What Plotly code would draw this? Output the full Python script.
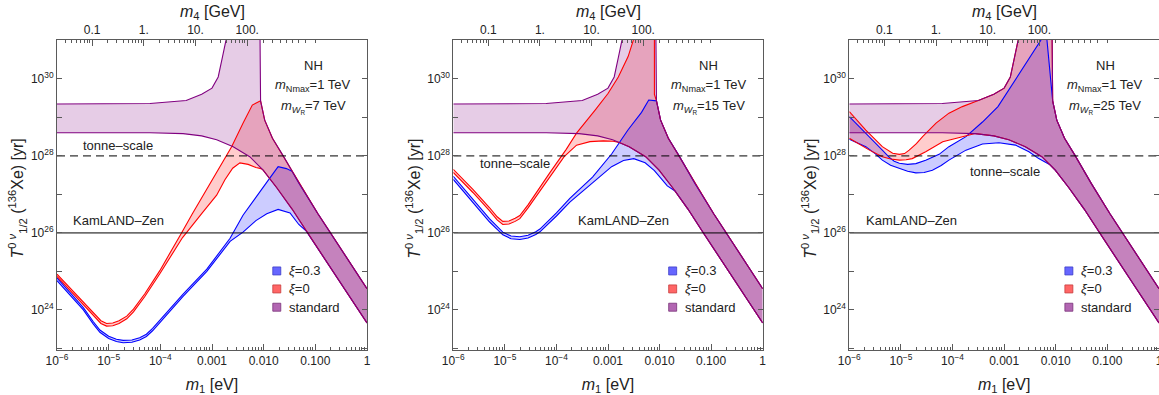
import numpy as np
import plotly.graph_objects as go

# ---------------- reference limits ----------------
kamland_T = 1e26
tonne_T = 1e28
kamland_label = "KamLAND–Zen"
tonne_label = "tonne–scale"

# ---------------- axis ticks / titles ----------------
m1_tick_values = [1e-6, 1e-5, 1e-4, 1e-3, 1e-2, 1e-1, 1.0]
m1_tick_labels = ["10<sup>−6</sup>", "10<sup>−5</sup>", "10<sup>−4</sup>", "0.001", "0.010", "0.100", "1"]
T_major_exponents = [24, 26, 28, 30]
T_minor_exponents = [23, 25, 27, 29, 31]
m4_tick_values = [0.1, 1.0, 10.0, 100.0]
m4_tick_labels = ["0.1", "1.", "10.", "100."]
m_N_max_GeV = 1000.0
sqrt_dm31_eV = 0.0479
x_title = "<i>m</i><sub>1</sub> [eV]"
top_title = "<i>m</i><sub>4</sub> [GeV]"
y_title = "<i>T</i><sup>0 <i>ν</i></sup><sub>1/2</sub> (<sup>136</sup>Xe) [yr]"

panel_mWR_TeV = [7, 15, 25]
legend_names = ["<i>ξ</i>=0.3", "<i>ξ</i>=0", "standard"]

# ---------------- curves: log10(m1/eV), log10(T1/2/yr) ----------------
# standard mechanism (same in every panel)
std_lower_logm1 = [-6.0, -5.0, -4.2, -3.56, -3.2, -2.91, -2.59, -2.27, -2.01, -1.75, -1.45, -1.15, -0.6, 0.0]
std_lower_logT = [28.60, 28.60, 28.60, 28.58, 28.52, 28.42, 28.24, 27.98, 27.63, 27.18, 26.62, 26.0, 24.88, 23.66]
std_upper_left_logm1 = [-6.0, -5.0, -4.2, -3.5, -3.2, -3.0, -2.88, -2.80, -2.73, -2.69]
std_upper_left_logT = [29.35, 29.35, 29.36, 29.44, 29.60, 29.76, 30.05, 30.55, 31.0, 32.0]
std_upper_right_logm1 = [-2.07, -2.07, -2.06, -1.98, -1.83, -1.63, -1.31, -0.95, -0.72, 0.0]
std_upper_right_logT = [32.0, 31.0, 29.43, 28.93, 28.46, 28.02, 27.28, 26.50, 26.03, 24.55]

# panel 1 : m_WR = 7 TeV
p1_red_lower_logm1 = [-6.0, -5.75, -5.5, -5.3, -5.15, -5.04, -4.92, -4.80, -4.65, -4.52, -4.3, -4.01, -3.8,
                      -3.57, -3.2, -2.91, -2.75, -2.60, -2.46, -2.30, -2.15, -2.05]
p1_red_lower_logT = [24.87, 24.51, 24.15, 23.86, 23.65, 23.58, 23.59, 23.65, 23.77, 23.95, 24.35, 24.94, 25.40,
                     25.88, 26.50, 26.98, 27.38, 27.68, 27.82, 27.78, 27.70, 27.67]
p1_red_upper_logm1 = [-6.0, -5.75, -5.5, -5.3, -5.15, -5.04, -4.92, -4.80, -4.65, -4.52, -4.3, -4.01, -3.8,
                      -3.59, -3.38, -3.17, -2.90, -2.62, -2.40, -2.22, -2.06]
p1_red_upper_logT = [24.93, 24.58, 24.22, 23.93, 23.72, 23.65, 23.66, 23.72, 23.84, 24.02, 24.42, 25.02, 25.50,
                     26.0, 26.50, 26.98, 27.60, 28.24, 28.85, 29.32, 29.43]
p1_blue_lower_logm1 = [-6.0, -5.75, -5.49, -5.3, -5.17, -5.0, -4.85, -4.72, -4.55, -4.4, -4.27, -4.15, -4.01,
                       -3.8, -3.56, -3.10, -2.65, -2.40, -2.15, -1.94, -1.72, -1.49, -1.32, -1.17]
p1_blue_lower_logT = [24.76, 24.38, 24.0, 23.64, 23.42, 23.26, 23.18, 23.15, 23.16, 23.22, 23.31, 23.46, 23.67,
                      23.99, 24.35, 25.0, 25.78, 26.02, 26.32, 26.50, 26.61, 26.52, 26.22, 26.04]
p1_blue_upper_logm1 = [-6.0, -5.75, -5.49, -5.3, -5.17, -5.0, -4.85, -4.72, -4.55, -4.4, -4.27, -4.15, -4.01,
                       -3.8, -3.56, -3.10, -2.65, -2.40, -2.11, -1.91, -1.72, -1.56, -1.45]
p1_blue_upper_logT = [24.83, 24.45, 24.06, 23.70, 23.48, 23.32, 23.24, 23.21, 23.22, 23.28, 23.37, 23.52, 23.73,
                      24.05, 24.41, 25.06, 25.86, 26.46, 26.98, 27.37, 27.72, 27.67, 27.60]

# panel 2 : m_WR = 15 TeV
p2_red_lower_logm1 = [-6.0, -5.62, -5.3, -5.15, -5.04, -4.92, -4.80, -4.71, -4.55, -4.39, -4.07, -3.85, -3.61,
                      -3.35, -3.09, -2.90, -2.78]
p2_red_lower_logT = [27.57, 27.05, 26.58, 26.34, 26.22, 26.23, 26.30, 26.37, 26.65, 26.96, 27.58, 27.98, 28.28,
                     28.37, 28.39, 28.38, 28.35]
p2_red_upper_left_logm1 = [-6.0, -5.62, -5.3, -5.15, -5.04, -4.92, -4.80, -4.71, -4.55, -4.39, -4.12, -3.81,
                           -3.61, -3.25, -3.0, -2.80, -2.61, -2.51, -2.48]
p2_red_upper_left_logT = [27.65, 27.13, 26.66, 26.42, 26.30, 26.31, 26.38, 26.45, 26.73, 27.05, 27.58, 28.17,
                          28.59, 29.19, 29.62, 30.05, 30.58, 31.0, 32.0]
p2_red_upper_right_logm1 = [-2.10, -2.10, -2.06]
p2_red_upper_right_logT = [32.0, 29.60, 29.43]
p2_blue_lower_logm1 = [-6.0, -5.62, -5.3, -5.04, -4.88, -4.71, -4.55, -4.40, -4.32, -4.0, -3.74, -3.30, -2.93,
                       -2.70, -2.50, -2.28, -2.10, -1.96, -1.85, -1.70]
p2_blue_lower_logT = [27.39, 26.80, 26.29, 25.95, 25.85, 25.83, 25.87, 25.96, 26.03, 26.44, 26.80, 27.30, 27.72,
                      27.88, 27.93, 27.82, 27.62, 27.40, 27.22, 27.09]
p2_blue_upper_logm1 = [-6.0, -5.62, -5.3, -5.04, -4.88, -4.71, -4.55, -4.40, -4.32, -4.0, -3.74, -3.30, -2.93,
                       -2.61, -2.35, -2.21, -2.06]
p2_blue_upper_logT = [27.47, 26.88, 26.37, 26.02, 25.92, 25.90, 25.94, 26.03, 26.10, 26.52, 26.90, 27.45, 28.05,
                      28.68, 29.13, 29.45, 29.43]

# panel 3 : m_WR = 25 TeV
p3_red_lower_logm1 = [-6.0, -5.8, -5.61, -5.36, -5.2, -5.03, -4.9, -4.78, -4.52, -4.19, -3.87, -3.60]
p3_red_lower_logT = [28.46, 28.30, 28.15, 27.98, 27.92, 27.89, 27.90, 27.93, 28.11, 28.37, 28.48, 28.57]
p3_red_upper_logm1 = [-6.0, -5.85, -5.68, -5.5, -5.36, -5.16, -5.03, -4.93, -4.84, -4.7, -4.58, -4.32, -4.07,
                      -3.81, -3.55]
p3_red_upper_logT = [29.15, 28.92, 28.67, 28.43, 28.24, 28.07, 28.04, 28.06, 28.15, 28.32, 28.50, 28.85, 29.11,
                     29.28, 29.40]
p3_blue_lower_logm1 = [-6.0, -5.85, -5.68, -5.5, -5.36, -5.2, -5.03, -4.87, -4.71, -4.55, -4.39, -4.22, -4.07,
                       -3.74, -3.42, -3.10, -2.78, -2.52, -2.33, -2.12]
p3_blue_lower_logT = [28.43, 28.35, 28.24, 28.06, 27.89, 27.76, 27.67, 27.60, 27.56, 27.57, 27.63, 27.75, 27.89,
                      28.15, 28.31, 28.34, 28.28, 28.11, 27.93, 27.78]
p3_blue_upper_left_logm1 = [-6.0, -5.8, -5.61, -5.36, -5.23, -5.13, -5.03, -4.87, -4.71, -4.52, -4.26, -4.07,
                            -3.74, -3.42, -3.12, -2.70, -2.29, -2.25]
p3_blue_upper_left_logT = [29.02, 28.74, 28.50, 28.15, 27.97, 27.86, 27.81, 27.78, 27.80, 27.89, 28.04, 28.24,
                           28.50, 28.88, 29.28, 30.15, 31.0, 32.0]
p3_blue_upper_right_logm1 = [-2.17, -2.17, -2.10, -2.06]
p3_blue_upper_right_logT = [32.0, 31.0, 30.0, 29.43]


# ---------------- helpers ----------------
def concat(*pieces):
    xs, ys = [], []
    for px, py in pieces:
        xs += list(px)
        ys += list(py)
    return xs, ys


def join(own, base):
    """own curve, continued by the base (standard) curve beyond its last point"""
    xs, ys = list(own[0]), list(own[1])
    last = xs[-1]
    for x, y in zip(*base):
        if x > last + 1e-9:
            xs.append(x)
            ys.append(y)
    return xs, ys


std_lower = (std_lower_logm1, std_lower_logT)
std_upper_left = (std_upper_left_logm1, std_upper_left_logT)
std_upper_right = (std_upper_right_logm1, std_upper_right_logT)
std_upper = concat(std_upper_left, std_upper_right)

panels = [
    dict(
        blue=(join((p1_blue_lower_logm1, p1_blue_lower_logT), std_lower),
              join((p1_blue_upper_logm1, p1_blue_upper_logT), std_upper_right)),
        red=(join((p1_red_lower_logm1, p1_red_lower_logT), std_lower),
             join((p1_red_upper_logm1, p1_red_upper_logT), std_upper_right)),
    ),
    dict(
        blue=(join((p2_blue_lower_logm1, p2_blue_lower_logT), std_lower),
              join((p2_blue_upper_logm1, p2_blue_upper_logT), std_upper_right)),
        red=(join((p2_red_lower_logm1, p2_red_lower_logT), std_lower),
             join(concat((p2_red_upper_left_logm1, p2_red_upper_left_logT),
                         (p2_red_upper_right_logm1, p2_red_upper_right_logT)), std_upper_right)),
    ),
    dict(
        blue=(join((p3_blue_lower_logm1, p3_blue_lower_logT), std_lower),
              join(concat((p3_blue_upper_left_logm1, p3_blue_upper_left_logT),
                          (p3_blue_upper_right_logm1, p3_blue_upper_right_logT)), std_upper_right)),
        red=(join((p3_red_lower_logm1, p3_red_lower_logT), std_lower),
             join((p3_red_upper_logm1, p3_red_upper_logT), std_upper)),
    ),
]
for p in panels:
    p["std"] = (std_lower, std_upper)


def m1_of_m4(m4):
    r = np.asarray(m4, dtype=float) / m_N_max_GeV
    return r * sqrt_dm31_eV / np.sqrt(1.0 - r * r)


m4_minor_values = [k * 10.0 ** d for d in range(-2, 3) for k in range(2, 10)]
m4_minor_m1 = [float(v) for v in m1_of_m4(m4_minor_values) if 1e-6 < v < 1.0]
m1_minor = [k * 10.0 ** d for d in range(-6, 0) for k in range(2, 10)]

# ---------------- styling ----------------
W, H = 1159, 395
FONT = "Liberation Sans, Arial, sans-serif"
FRAME = "#5a5a5a"
TXT = "#222222"
COL = {"blue": (0, 0, 255), "red": (255, 0, 0), "std": (128, 0, 128)}
SWATCH = {"blue": ("rgb(102,102,255)", "rgb(60,60,200)"),
          "red": ("rgb(255,102,102)", "rgb(200,60,60)"),
          "std": ("rgb(178,102,178)", "rgb(120,50,120)")}
x_left_px = [57, 453.3, 849.3]
x_domains = [[57 / W, 367 / W], [453.3 / W, 762.7 / W], [849.3 / W, 1.0]]
y_domain = [1 - 350 / H, 1 - 40 / H]

fig = go.Figure()
layout = dict(width=W, height=H, margin=dict(l=0, r=0, t=0, b=0, autoexpand=False),
              paper_bgcolor="white", plot_bgcolor="white", showlegend=False,
              font=dict(family=FONT, color=TXT, size=12))
annotations = []
shapes = []


def ax_name(prefix, k):
    return prefix + ("" if k == 1 else str(k))


for i, p in enumerate(panels):
    kb, kt, ky = 2 * i + 1, 2 * i + 2, i + 1
    xb, xt, yy = ax_name("x", kb), ax_name("x", kt), ax_name("y", ky)

    # fills
    for key in ["blue", "red", "std"]:
        (lx, ly), (ux, uy) = p[key]
        px = lx + ux[::-1]
        py = ly + uy[::-1]
        r, g, b = COL[key]
        fig.add_trace(go.Scatter(x=10 ** np.array(px), y=10 ** np.array(py), mode="lines",
                                 fill="toself", fillcolor=f"rgba({r},{g},{b},0.2)",
                                 line=dict(width=0), hoverinfo="skip", showlegend=False,
                                 xaxis=xb, yaxis=yy))
    # boundary lines
    for key in ["blue", "red", "std"]:
        r, g, b = COL[key]
        for cx, cy in p[key]:
            fig.add_trace(go.Scatter(x=10 ** np.array(cx), y=10 ** np.array(cy), mode="lines",
                                     line=dict(color=f"rgb({r},{g},{b})", width=1.1),
                                     hoverinfo="skip", showlegend=False, xaxis=xb, yaxis=yy))
    # experimental limits
    fig.add_trace(go.Scatter(x=[m1_tick_values[0], m1_tick_values[-1]], y=[kamland_T, kamland_T],
                             mode="lines", line=dict(color="black", width=1),
                             hoverinfo="skip", showlegend=False, xaxis=xb, yaxis=yy))
    fig.add_trace(go.Scatter(x=[m1_tick_values[0], m1_tick_values[-1]], y=[tonne_T, tonne_T],
                             mode="lines", line=dict(color="black", width=1, dash="8px,5px"),
                             hoverinfo="skip", showlegend=False, xaxis=xb, yaxis=yy))
    # top axis anchor trace
    fig.add_trace(go.Scatter(x=[None], y=[None], mode="lines", showlegend=False,
                             hoverinfo="skip", xaxis=xt, yaxis=yy))

    common = dict(type="log", range=[-6, 0], domain=x_domains[i], showgrid=False, zeroline=False,
                  automargin=False, ticklabeloverflow="allow",
                  showline=True, linecolor=FRAME, linewidth=1, ticks="inside", ticklen=6,
                  tickwidth=1, tickcolor=FRAME, tickfont=dict(size=12, color=TXT, family=FONT))
    layout["xaxis" + ("" if kb == 1 else str(kb))] = dict(
        common, anchor=yy, tickvals=m1_tick_values, ticktext=m1_tick_labels,
        minor=dict(tickvals=m1_minor, ticks="inside", ticklen=3, tickcolor=FRAME, tickwidth=1),
        title=dict(text=x_title, font=dict(size=16, color=TXT, family=FONT)))
    layout["xaxis" + str(kt)] = dict(
        common, anchor=yy, overlaying=xb, side="top",
        tickvals=[float(v) for v in m1_of_m4(m4_tick_values)], ticktext=m4_tick_labels,
        minor=dict(tickvals=m4_minor_m1, ticks="inside", ticklen=3, tickcolor=FRAME, tickwidth=1))
    layout["yaxis" + ("" if ky == 1 else str(ky))] = dict(
        type="log", range=[22.96, 31.01], domain=y_domain, anchor=xb, showgrid=False, zeroline=False,
        automargin=False,
        showline=True, linecolor=FRAME, linewidth=1, mirror="ticks", ticks="inside", ticklen=5,
        tickwidth=1, tickcolor=FRAME,
        tickvals=[10.0 ** e for e in T_major_exponents],
        ticktext=[f"10<sup>{e}</sup>" for e in T_major_exponents],
        minor=dict(tickvals=[10.0 ** e for e in T_minor_exponents], ticks="inside", ticklen=5,
                   tickcolor=FRAME, tickwidth=1),
        tickfont=dict(size=12, color=TXT, family=FONT))

    xd, yd = xb + " domain", yy + " domain"
    # axis titles placed as text
    annotations.append(dict(text=y_title, xref="paper", yref="paper",
                            x=(x_left_px[i] - 39.5) / W, y=1 - 199 / H, textangle=-90,
                            showarrow=False, xanchor="center", yanchor="middle",
                            font=dict(size=16, color=TXT, family=FONT)))
    annotations.append(dict(text=top_title, xref=xd, yref="paper", x=0.5, y=1 - 12 / H,
                            showarrow=False, xanchor="center", yanchor="middle",
                            font=dict(size=16, color=TXT, family=FONT)))
    # parameter box
    for txt, ypos in [("NH", 0.919),
                      ("<i>m</i><sub>Nmax</sub>=%d TeV" % 1, 0.852),
                      ("<i>m</i><sub><i>W</i><sub>R</sub></sub>=%d TeV" % panel_mWR_TeV[i], 0.784)]:
        annotations.append(dict(text=txt, xref=xd, yref=yd, x=0.826, y=ypos, showarrow=False,
                                xanchor="center", yanchor="middle", font=dict(size=13, color=TXT, family=FONT)))
    tonne_pos = [(0.197, 0.659), (0.198, 0.602), (0.502, 0.575)][i]
    kam_pos = [(0.197, 0.419), (0.549, 0.419), (0.202, 0.419)][i]
    annotations.append(dict(text=tonne_label, xref=xd, yref=yd, x=tonne_pos[0], y=tonne_pos[1],
                            showarrow=False, xanchor="center", yanchor="middle",
                            font=dict(size=13, color=TXT, family=FONT)))
    annotations.append(dict(text=kamland_label, xref=xd, yref=yd, x=kam_pos[0], y=kam_pos[1],
                            showarrow=False, xanchor="center", yanchor="middle",
                            font=dict(size=13, color=TXT, family=FONT)))
    # legend
    for j, (key, name) in enumerate(zip(["blue", "red", "std"], legend_names)):
        yc = [0.255, 0.197, 0.138][j]
        fc, lc = SWATCH[key]
        hw, hh = 4 / 310, 4 / 310
        shapes.append(dict(type="rect", xref=xd, yref=yd, x0=0.709 - hw, x1=0.709 + hw,
                           y0=yc - hh, y1=yc + hh, fillcolor=fc, line=dict(color=lc, width=0.8)))
        annotations.append(dict(text=name, xref=xd, yref=yd, x=0.743, y=yc, showarrow=False,
                                xanchor="left", yanchor="middle", font=dict(size=13, color=TXT, family=FONT)))

layout["annotations"] = annotations
layout["shapes"] = shapes
fig.update_layout(**layout)
fig.write_html("out.html")
